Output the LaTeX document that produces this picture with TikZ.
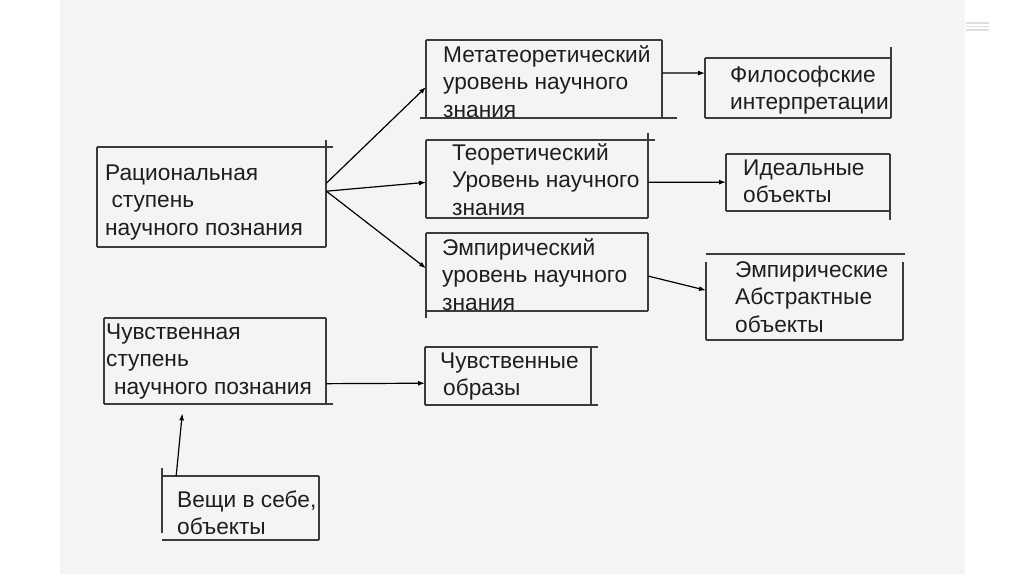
\documentclass[tikz,border=0pt]{standalone}
\usepackage{fontspec}
\setmainfont{Liberation Sans}
\usetikzlibrary{calc,arrows.meta}
\definecolor{bggray}{HTML}{F4F4F4}
\definecolor{ink}{HTML}{1E1E1E}
\definecolor{edge}{HTML}{3C3C3C}
\begin{document}
\begin{tikzpicture}[x=1pt,y=-1pt,
  frame/.style={draw=none,rectangle,inner sep=0pt,anchor=north west},
  txt/.style={anchor=base west,inner sep=0pt,text=ink,font=\fontsize{22.7}{27.5}\selectfont},
  edgeline/.style={draw=edge,line width=1.2pt},
  arr/.style={draw=black,line width=1.2pt,-{Latex[length=7pt,width=5pt]}}]
\useasboundingbox (0,0) rectangle (1024,574);
\fill[white] (0,0) rectangle (1024,574);
\fill[bggray] (60,0) rectangle (965,574);
% faint menu icon
\foreach \yy in {23,26.5,30} \draw[draw=black!13,line width=1.4pt] (966,\yy) -- (989,\yy);

% invisible frames (for connectors)
\node[frame,minimum width=229pt,minimum height=100pt] (rat) at (97,147) {};
\node[frame,minimum width=236pt,minimum height=78pt] (meta) at (426,40) {};
\node[frame,minimum width=186pt,minimum height=60pt] (phil) at (705,58) {};
\node[frame,minimum width=222pt,minimum height=78pt] (theo) at (426,140) {};
\node[frame,minimum width=164pt,minimum height=57pt] (ideal) at (726,154) {};
\node[frame,minimum width=222pt,minimum height=78pt] (emp) at (426,233) {};
\node[frame,minimum width=197pt,minimum height=86pt] (empobj) at (706,254) {};
\node[frame,minimum width=222pt,minimum height=86pt] (feel) at (104,318) {};
\node[frame,minimum width=166pt,minimum height=58pt] (images) at (425,347) {};
\node[frame,minimum width=157pt,minimum height=64pt] (things) at (162,476) {};

% box outlines (as drawn, with overhanging strokes)
\path[edgeline] (97,147) -- (333,147) (326,140) -- (326,247) (97,147) -- (97,247) (97,247) -- (326,247);
\path[edgeline] (426,40) -- (662,40) (662,40) -- (662,118) (426,40) -- (426,118) (420,118) -- (677,118);
\path[edgeline] (705,58) -- (891,58) (891,47) -- (891,118) (705,58) -- (705,118) (705,118) -- (891,118);
\path[edgeline] (426,140) -- (655,140) (648,133) -- (648,218) (426,140) -- (426,218) (426,218) -- (648,218);
\path[edgeline] (726,154) -- (890,154) (890,154) -- (890,220) (726,154) -- (726,211) (726,211) -- (890,211);
\path[edgeline] (426,233) -- (648,233) (648,233) -- (648,311) (426,233) -- (426,318) (426,311) -- (648,311);
\path[edgeline] (706,254) -- (905,254) (706,262) -- (706,340) (903,262) -- (903,340) (706,340) -- (903,340);
\path[edgeline] (104,318) -- (326,318) (326,318) -- (326,404) (104,318) -- (104,404) (104,404) -- (333,404);
\path[edgeline] (425,347) -- (598,347) (591,347) -- (591,405) (425,347) -- (425,405) (425,405) -- (598,405);
\path[edgeline] (162,476) -- (319,476) (162,468) -- (162,533) (319,476) -- (319,540) (162,540) -- (319,540);

% texts
\node[txt] (ratT) at (105,180) {\begin{tabular}[t]{@{}l@{}}Рациональная\\\ ступень\\научного познания\end{tabular}};
\node[txt] (metaT) at (443,62) {\begin{tabular}[t]{@{}l@{}}Метатеоретический\\уровень научного\\знания\end{tabular}};
\node[txt] (philT) at (730,82) {\begin{tabular}[t]{@{}l@{}}Философские\\интерпретации\end{tabular}};
\node[txt] (theoT) at (452,160) {\begin{tabular}[t]{@{}l@{}}Теоретический\\Уровень научного\\знания\end{tabular}};
\node[txt] (idealT) at (743,175) {\begin{tabular}[t]{@{}l@{}}Идеальные\\объекты\end{tabular}};
\node[txt] (empT) at (442,255) {\begin{tabular}[t]{@{}l@{}}Эмпирический\\уровень научного\\знания\end{tabular}};
\node[txt] (empobjT) at (735,277) {\begin{tabular}[t]{@{}l@{}}Эмпирические\\Абстрактные\\объекты\end{tabular}};
\node[txt] (feelT) at (106,339) {\begin{tabular}[t]{@{}l@{}}Чувственная\\ступень\\\hspace*{8pt}научного познания\end{tabular}};
\node[txt] (imagesT) at (440,368) {\begin{tabular}[t]{@{}l@{}}Чувственные\\\hspace*{3pt}образы\end{tabular}};
\node[txt] (thingsT) at (177,507) {\begin{tabular}[t]{@{}l@{}}Вещи в себе,\\объекты\end{tabular}};

% connectors
\draw[arr] ($(rat.north east)!.36!(rat.south east)$) -- ($(meta.north west)!.60!(meta.south west)$);
\draw[arr] ($(rat.north east)!.44!(rat.south east)$) -- ($(theo.north west)!.54!(theo.south west)$);
\draw[arr] ($(rat.north east)!.44!(rat.south east)$) -- ($(emp.north west)!.45!(emp.south west)$);
\draw[arr] ($(meta.north east)!.42!(meta.south east)$) -- ($(phil.north west)!.25!(phil.south west)$);
\draw[arr] ($(theo.north east)!.54!(theo.south east)$) -- ($(ideal.north west)!.49!(ideal.south west)$);
\draw[arr] ($(emp.north east)!.55!(emp.south east)$) -- ($(empobj.north west)!.42!(empobj.south west)$);
\draw[arr] ($(feel.north east)!.76!(feel.south east)$) -- ($(images.north west)!.62!(images.south west)$);
\draw[arr,shorten >=9pt] ($(things.north west)!.09!(things.north east)$) -- ($(feel.south west)!.356!(feel.south east)$);
\end{tikzpicture}
\end{document}
